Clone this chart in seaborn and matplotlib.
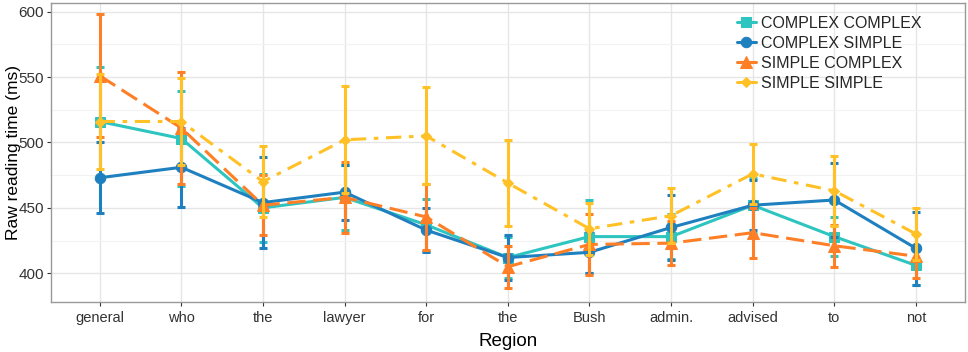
import numpy as np
import pandas as pd
import matplotlib
matplotlib.use("Agg")
import matplotlib.pyplot as plt
import seaborn as sns

regions = ["general", "who", "the", "lawyer", "for", "the ", "Bush", "admin.", "advised", "to", "not"]
conditions = ["COMPLEX COMPLEX", "COMPLEX SIMPLE", "SIMPLE COMPLEX", "SIMPLE SIMPLE"]

cc_mean = [516, 503, 450, 458, 437, 412, 428, 428, 452, 428, 406]
cs_mean = [473, 481, 454, 462, 433, 412, 416, 435, 452, 456, 419]
sc_mean = [551, 511, 452, 458, 443, 405, 422, 423, 431, 421, 413]
ss_mean = [516, 516, 470, 502, 505, 469, 434, 444, 476, 463, 430]

cc_err = [42, 36, 26, 25, 20, 16, 28, 17, 21, 15, 15]
cs_err = [27, 30, 35, 21, 17, 17, 16, 25, 19, 28, 28]
sc_err = [47, 43, 23, 27, 25, 16, 23, 17, 19, 16, 17]
ss_err = [36, 33, 27, 41, 37, 33, 20, 21, 23, 27, 20]

colors = ["#2EC4C0", "#1F80C0", "#FF7F27", "#FFC125"]
markers = ["s", "o", "^", "D"]
msizes = [7.5, 7.5, 8.5, 5.5]
dashes = [(None, None), (None, None), (6, 2.5), (5, 2.5, 1.5, 2.5)]

means = [cc_mean, cs_mean, sc_mean, ss_mean]
errs = [cc_err, cs_err, sc_err, ss_err]

rows = []
for cond, m, e in zip(conditions, means, errs):
    for i, (r, mv, ev) in enumerate(zip(regions, m, e)):
        rows.append({"Region": r, "pos": i, "Condition": cond, "RT": mv, "err": ev})
df = pd.DataFrame(rows)

sns.set_theme(style="whitegrid")
plt.rcParams["font.family"] = ["Liberation Sans", "DejaVu Sans"]

fig = plt.figure(figsize=(9.68, 3.52), dpi=100)
ax = fig.add_axes([0.0524, 0.142, 0.9445, 0.8495])

for k, cond in enumerate(conditions):
    sub = df[df["Condition"] == cond]
    ax.errorbar(sub["pos"], sub["RT"], yerr=sub["err"], fmt="none",
                ecolor=colors[k], elinewidth=2.2, capsize=3, capthick=2.2,
                zorder=2 + k)
    sns.lineplot(data=sub, x="pos", y="RT", ax=ax, color=colors[k],
                 linewidth=2.2, marker=markers[k], markersize=msizes[k],
                 markeredgecolor=colors[k], label=cond, zorder=2.5 + k)
    line = ax.get_lines()[-1]
    if dashes[k][0] is not None:
        line.set_dashes(dashes[k])

ax.set_xlim(-0.6, 10.6)
ax.set_ylim(378, 606.6)
ax.set_xticks(range(len(regions)))
ax.set_xticklabels([r.strip() for r in regions], fontsize=10.5, color="#222222")
ax.set_yticks([400, 450, 500, 550, 600])
ax.set_yticks([425, 475, 525, 575], minor=True)
ax.tick_params(axis="y", labelsize=11, colors="#333333", length=3, width=0.8, left=True, pad=2)
ax.tick_params(axis="x", length=3, width=0.8, bottom=True, colors="#333333")
ax.tick_params(axis="y", which="minor", length=0)
ax.set_xlabel("Region", fontsize=13.5, color="black", labelpad=6)
ax.set_ylabel("Raw reading time (ms)", fontsize=12.5, color="black")
ax.yaxis.set_label_coords(-0.033, 0.5)
ax.grid(True, which="major", color="#E6E6E6", linewidth=1.0)
ax.grid(True, which="minor", axis="y", color="#F2F2F2", linewidth=0.8)
ax.set_axisbelow(True)
for s in ax.spines.values():
    s.set_color("#999999")
    s.set_linewidth(1.0)

handles, labels = ax.get_legend_handles_labels()
leg = ax.legend(handles, labels, loc="upper left", bbox_to_anchor=(0.738, 0.995),
                frameon=False, fontsize=11.5, handlelength=1.2, handletextpad=0.3,
                labelspacing=0.32, borderaxespad=0.3)
for h in leg.get_lines():
    h.set_linestyle("-")

fig.savefig("out.png", dpi=100)
